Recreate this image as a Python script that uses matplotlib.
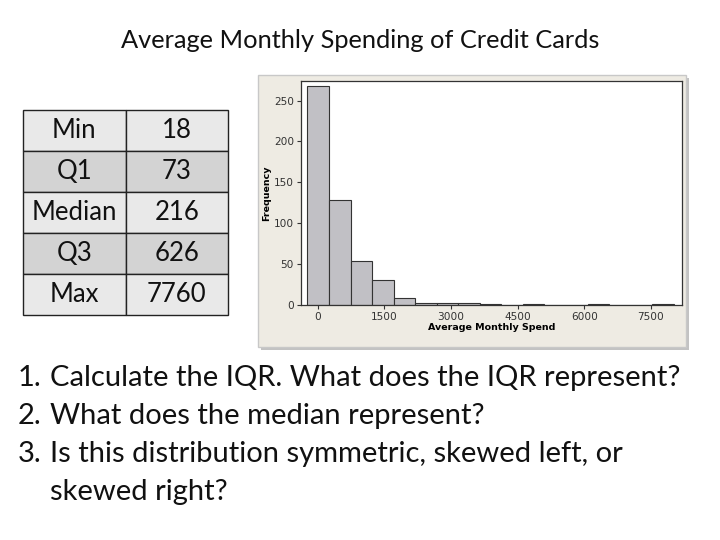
import matplotlib.pyplot as plt
from matplotlib.patches import Rectangle

# summary table
stat_names = ["Min", "Q1", "Median", "Q3", "Max"]
stat_values = ["18", "73", "216", "626", "7760"]

# histogram (bin width ~485)
bin_start = -232
bin_width = 485
counts = [268, 129, 54, 30, 8, 3, 3, 2, 1, 0, 1, 0, 0, 1, 0, 0, 1]
x_ticks = [0, 1500, 3000, 4500, 6000, 7500]
y_ticks = [0, 50, 100, 150, 200, 250]

questions = [
    ("1.", "Calculate the IQR. What does the IQR represent?"),
    ("2.", "What does the median represent?"),
    ("3.", "Is this distribution symmetric, skewed left, or"),
    ("", "skewed right?"),
]

W, H = 720, 540
fig = plt.figure(figsize=(7.2, 5.4), dpi=100)
fig.patch.set_facecolor("white")

def fx(px):
    return px / W

def fy(py):
    return 1 - py / H

main_font = ["Lato", "DejaVu Sans"]

fig.text(fx(360), fy(40), "Average Monthly Spending of Credit Cards", ha="center", va="center",
         fontsize=18.3, family=main_font, color="#111111")

# table
tax = fig.add_axes([fx(23), fy(315), fx(228) - fx(23), fy(110) - fy(315)])
tax.axis("off")
row_cols = ["#e9e9e9", "#d3d3d3"]
cell_text = [[n, v] for n, v in zip(stat_names, stat_values)]
cell_colors = [[row_cols[i % 2]] * 2 for i in range(len(stat_names))]
tbl = tax.table(cellText=cell_text, cellColours=cell_colors, cellLoc="center",
                bbox=[0, 0, 1, 1])
tbl.auto_set_font_size(False)
for (r, c), cell in tbl.get_celld().items():
    cell.set_edgecolor("#222222")
    cell.set_linewidth(1.0)
    cell.get_text().set_fontsize(18.5)
    cell.get_text().set_family(main_font)
    cell.get_text().set_color("#111111")

# histogram panel background with shadow
fig.patches.append(Rectangle((fx(261), fy(350)), fx(686) - fx(258), fy(75) - fy(347),
                             transform=fig.transFigure, facecolor="#9a9a9a", edgecolor="none",
                             alpha=0.6, zorder=-2))
fig.patches.append(Rectangle((fx(258), fy(347)), fx(686) - fx(258), fy(75) - fy(347),
                             transform=fig.transFigure, facecolor="#eeebe3", edgecolor="#c8c8c8",
                             linewidth=1.0, zorder=-1))

ax = fig.add_axes([fx(301), fy(305), fx(682) - fx(301), fy(81) - fy(305)])
ax.set_zorder(1)
ax.set_facecolor("white")
lefts = [bin_start + i * bin_width for i in range(len(counts))]
ax.bar(lefts, counts, width=bin_width, align="edge", color="#c1c0c5",
       edgecolor="#333333", linewidth=0.8)
ax.set_xlim(-376, 8197)
ax.set_ylim(0, 274)
ax.set_xticks(x_ticks)
ax.set_yticks(y_ticks)
ax.tick_params(direction="out", length=3, width=0.8, labelsize=7.6, colors="#333333", pad=2)
for s in ax.spines.values():
    s.set_linewidth(0.9)
    s.set_color("#333333")
ax.set_xlabel("Average Monthly Spend", fontsize=6.8, fontweight="bold", labelpad=1)
ax.set_ylabel("Frequency", fontsize=6.8, fontweight="bold", labelpad=2)

# questions
line_y = [378, 416, 454, 492]
for (num, txt), y in zip(questions, line_y):
    if num:
        fig.text(fx(18), fy(y), num, ha="left", va="center", fontsize=21, family=main_font, color="#111111")
    fig.text(fx(50), fy(y), txt, ha="left", va="center", fontsize=21, family=main_font, color="#111111")

fig.savefig("out.png", dpi=100)
